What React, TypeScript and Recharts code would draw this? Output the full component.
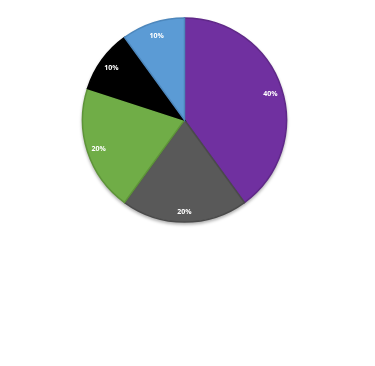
import React from 'react';
import { PieChart, Pie, Cell } from 'recharts';

const names = ['Slice A', 'Slice B', 'Slice C', 'Slice D', 'Slice E'];
const values = [40, 20, 20, 10, 10];
const fills = ['#7030A0', '#595959', '#70AD47', '#000000', '#5B9BD5'];
const strokes = ['#5F2888', '#4A4A4A', '#5E9439', '#000000', '#4D87BC'];

const data = names.map((name, i) => ({ name, value: values[i] }));

const RADIAN = Math.PI / 180;

// Labels sit close to the rim, like the original
const renderLabel = ({ cx, cy, midAngle, outerRadius, value }: any) => {
  const r = outerRadius * 0.885;
  const x = cx + r * Math.cos(-midAngle * RADIAN);
  const y = cy + r * Math.sin(-midAngle * RADIAN) + 1;
  return (
    <text
      x={x}
      y={y}
      fill="#ffffff"
      fontSize={7}
      fontWeight="bold"
      fontFamily="'Open Sans', Arial, sans-serif"
      textAnchor="middle"
      dominantBaseline="central"
    >
      {value}%
    </text>
  );
};

export default function App() {
  return (
    <div
      style={{
        width: 359,
        height: 350,
        background: '#ffffff',
      }}
    >
      <div style={{ filter: 'drop-shadow(0px 2px 1.5px rgba(0,0,0,0.3))' }}>
        <PieChart width={359} height={350} margin={{ top: 0, right: 0, bottom: 0, left: 0 }}>
          <Pie
            data={data}
            dataKey="value"
            nameKey="name"
            cx={176.5}
            cy={112}
            outerRadius={102}
            startAngle={90}
            endAngle={-270}
            label={renderLabel}
            labelLine={false}
            isAnimationActive={false}
          >
            {data.map((entry, i) => (
              <Cell key={entry.name} fill={fills[i]} stroke={strokes[i]} strokeWidth={1.5} />
            ))}
          </Pie>
        </PieChart>
      </div>
    </div>
  );
}
